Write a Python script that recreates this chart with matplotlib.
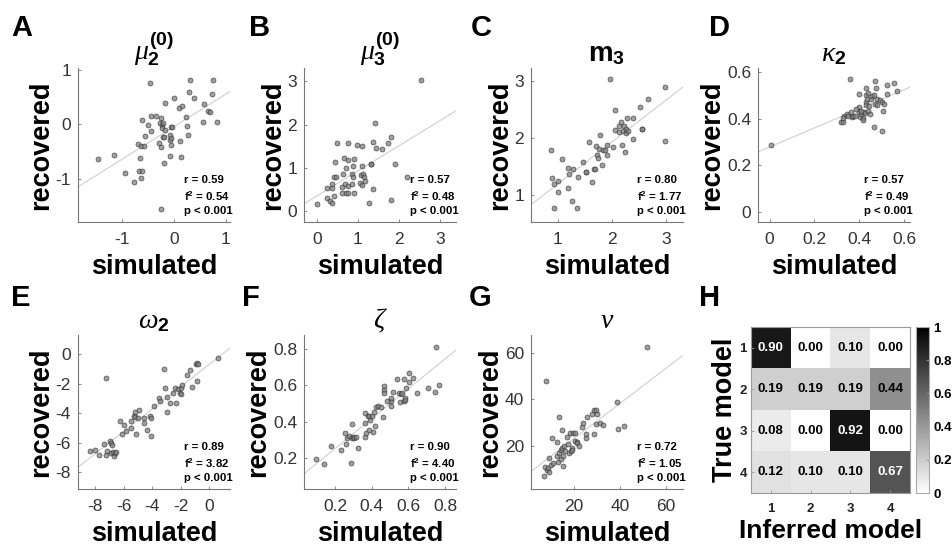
import matplotlib
matplotlib.use("Agg")
import matplotlib.pyplot as plt
import numpy as np

plt.rcParams['font.family'] = ['Liberation Sans', 'DejaVu Sans']
plt.rcParams['mathtext.fontset'] = 'custom'
plt.rcParams['mathtext.rm'] = 'Liberation Sans'
plt.rcParams['mathtext.bf'] = 'Liberation Sans:bold'
plt.rcParams['mathtext.it'] = 'Liberation Serif:italic'

# ---- data ----
a_sim = [-1.46, -1.16, -0.95, -0.78, -0.64, -0.67, -0.61, -0.65, -0.69, -0.63, -0.57, -0.61,
         -0.55, -0.50, -0.45, -0.44, -0.46, -0.34, -0.25, -0.27, -0.23, -0.21, -0.24, -0.17,
         -0.22, -0.19, -0.28, -0.25, -0.19, -0.17, -0.08, -0.08, -0.06, -0.06, -0.06, -0.04,
         -0.08, -0.25, 0.01, 0.10, 0.15, 0.12, 0.14, 0.23, 0.26, 0.28, 0.29, 0.30, 0.38,
         0.55, 0.58, 0.65, 0.70, 0.74, 0.75, 0.83]
a_rec = [-0.63, -0.57, -0.90, -1.06, -0.99, -0.86, -0.86, -0.62, -0.37, -0.40, -0.40, 0.09,
         -0.22, -0.01, -0.12, 0.15, 0.77, 0.15, 0.12, 0.03, -0.01, 0.02, -0.06, -0.10,
         -0.23, -0.23, -0.35, -0.41, -0.71, 0.39, -0.20, -0.29, -0.38, -0.26, -0.04, -0.04,
         -0.58, -1.56, 0.48, 0.31, 0.33, -0.31, -0.60, 0.14, -0.03, -0.19, 0.60, 0.81, 0.48,
         0.05, 0.38, 0.25, 0.23, 0.56, 0.81, 0.05]

b_sim = [0.00, 0.24, 0.26, 0.32, 0.37, 0.37, 0.37, 0.41, 0.42, 0.46, 0.44, 0.49, 0.61, 0.64,
         0.62, 0.65, 0.69, 0.70, 0.72, 0.76, 0.76, 0.77, 0.77, 0.89, 0.86, 0.85, 0.89, 0.90,
         0.90, 0.98, 1.06, 1.08, 1.10, 1.10, 1.12, 1.09, 1.14, 1.18, 1.28, 1.31, 1.32, 1.36,
         1.36, 1.42, 1.45, 1.58, 1.73, 1.80, 1.80, 1.89, 2.18, 2.54]
b_rec = [0.17, 0.53, 0.30, 0.23, 0.53, 0.63, 0.18, 0.34, 0.78, 0.78, 1.14, 1.57, 0.55, 0.85,
         0.42, 1.24, 0.63, 0.43, 1.00, 0.43, 0.58, 1.57, 1.18, 1.05, 0.85, 0.63, 0.78, 0.43,
         1.21, 1.52, 0.65, 0.83, 1.04, 1.50, 0.85, 0.61, 0.78, 0.70, 0.19, 1.08, 1.10, 1.61,
         0.51, 2.04, 1.47, 1.43, 1.57, 1.72, 0.26, 1.08, 0.78, 3.04]

c_sim = [0.88, 0.90, 0.93, 0.94, 1.00, 1.01, 1.09, 1.20, 1.20, 1.22, 1.26, 1.28, 1.36, 1.38,
         1.47, 1.52, 1.53, 1.59, 1.63, 1.68, 1.70, 1.71, 1.73, 1.74, 1.77, 1.78, 1.82, 1.85,
         1.88, 1.91, 1.92, 1.97, 2.02, 2.06, 2.06, 2.14, 2.14, 2.17, 2.19, 2.21, 2.23, 2.24,
         2.26, 2.27, 2.28, 2.31, 2.39, 2.40, 2.53, 2.56, 2.57, 2.68, 2.99, 2.99]
c_rec = [1.78, 1.29, 1.19, 0.77, 1.25, 1.06, 1.63, 1.48, 1.13, 1.37, 0.89, 1.45, 0.77, 1.32,
         1.57, 1.40, 1.40, 1.92, 1.22, 1.46, 1.46, 1.86, 1.70, 1.64, 1.80, 2.05, 1.53, 1.79,
         1.79, 1.70, 1.87, 3.02, 1.84, 2.49, 2.13, 2.20, 2.11, 2.27, 1.87, 2.12, 2.20, 1.76,
         2.08, 2.15, 2.35, 2.12, 2.35, 1.98, 2.54, 2.15, 2.15, 2.68, 2.89, 1.95]

d_sim = [0.004, 0.317, 0.326, 0.333, 0.326, 0.361, 0.344, 0.350, 0.364, 0.366, 0.374, 0.382,
         0.397, 0.397, 0.401, 0.404, 0.410, 0.419, 0.421, 0.427, 0.430, 0.430, 0.431, 0.431,
         0.437, 0.441, 0.444, 0.449, 0.453, 0.456, 0.465, 0.471, 0.471, 0.476, 0.479, 0.481,
         0.493, 0.501, 0.504, 0.508, 0.511, 0.523, 0.523, 0.557, 0.567, 0.464, 0.439, 0.387,
         0.406, 0.415]
d_rec = [0.287, 0.384, 0.387, 0.410, 0.404, 0.571, 0.420, 0.410, 0.428, 0.406, 0.413, 0.413,
         0.449, 0.428, 0.505, 0.406, 0.420, 0.401, 0.430, 0.423, 0.530, 0.500, 0.471, 0.457,
         0.483, 0.435, 0.454, 0.420, 0.486, 0.498, 0.365, 0.564, 0.464, 0.530, 0.457, 0.486,
         0.479, 0.347, 0.471, 0.435, 0.464, 0.508, 0.545, 0.552, 0.520, 0.500, 0.512, 0.442,
         0.435, 0.395]

e_sim = [-8.40, -8.05, -7.76, -7.39, -7.27, -7.22, -7.15, -6.99, -6.92, -6.92, -6.82, -6.75,
         -6.71, -6.64, -6.56, -6.24, -6.14, -6.00, -5.81, -5.48, -5.46, -5.27, -5.22, -5.18,
         -5.11, -4.99, -4.92, -4.59, -4.56, -4.33, -4.16, -4.09, -4.05, -3.88, -3.51, -3.46,
         -3.18, -3.11, -2.99, -2.96, -2.75, -2.52, -2.40, -2.33, -2.16, -2.05, -2.00, -1.98,
         -1.93, -1.53, -1.34, -1.22, -0.92, -0.82, -0.75, -0.87, 0.61]
e_rec = [-6.55, -6.49, -6.82, -6.08, -6.82, -1.63, -6.55, -5.88, -6.03, -6.67, -6.15, -6.60,
         -6.89, -6.71, -6.60, -4.50, -5.42, -4.79, -5.20, -4.52, -4.97, -4.16, -3.89, -4.23,
         -5.40, -4.34, -3.77, -4.29, -4.68, -5.13, -4.18, -5.54, -4.29, -3.48, -2.98, -3.16,
         -1.02, -2.26, -2.87, -3.89, -3.32, -2.64, -2.31, -3.28, -2.37, -2.64, -2.71, -2.31,
         -2.08, -1.40, -1.06, -2.19, -0.66, -0.61, -0.68, -1.81, -0.27]

f_sim = [0.096, 0.136, 0.178, 0.233, 0.251, 0.256, 0.262, 0.273, 0.287, 0.291, 0.293, 0.296,
         0.305, 0.311, 0.322, 0.360, 0.364, 0.365, 0.369, 0.378, 0.384, 0.387, 0.391, 0.400,
         0.405, 0.409, 0.418, 0.424, 0.433, 0.451, 0.460, 0.465, 0.467, 0.469, 0.482, 0.505,
         0.505, 0.507, 0.515, 0.536, 0.551, 0.555, 0.560, 0.564, 0.573, 0.578, 0.582, 0.582,
         0.587, 0.605, 0.602, 0.624, 0.647, 0.705, 0.745, 0.753, 0.765]
f_rec = [0.191, 0.163, 0.265, 0.243, 0.339, 0.276, 0.307, 0.322, 0.172, 0.387, 0.311, 0.316,
         0.311, 0.313, 0.252, 0.390, 0.446, 0.316, 0.339, 0.433, 0.353, 0.431, 0.409, 0.433,
         0.344, 0.451, 0.377, 0.479, 0.487, 0.479, 0.427, 0.597, 0.575, 0.560, 0.514, 0.514,
         0.533, 0.488, 0.562, 0.634, 0.560, 0.510, 0.553, 0.560, 0.514, 0.634, 0.533, 0.520,
         0.584, 0.671, 0.621, 0.640, 0.560, 0.584, 0.562, 0.816, 0.603]

g_sim = [6.96, 7.39, 7.83, 8.12, 8.84, 9.13, 9.28, 9.86, 10.58, 11.01, 12.46, 12.75, 13.19,
         13.62, 13.62, 14.20, 14.35, 14.78, 14.93, 15.07, 15.36, 15.65, 16.09, 16.81, 17.54,
         17.97, 18.26, 18.55, 19.00, 19.28, 19.71, 20.29, 20.43, 21.16, 21.45, 22.32, 23.33,
         24.06, 25.22, 25.22, 25.51, 27.68, 28.70, 28.84, 29.42, 29.57, 30.14, 31.30, 32.75,
         38.55, 38.99, 41.88, 52.03]
g_rec = [7.29, 11.14, 47.86, 9.71, 10.71, 15.00, 8.71, 11.86, 23.29, 12.86, 21.57, 15.71,
         13.29, 32.57, 16.86, 14.29, 18.29, 26.86, 19.00, 11.43, 15.86, 20.14, 17.86, 24.00,
         20.71, 16.86, 25.43, 18.00, 19.29, 18.29, 25.43, 25.43, 22.29, 21.86, 21.43, 20.00,
         28.29, 30.00, 23.57, 25.00, 32.57, 33.71, 25.14, 35.43, 35.43, 29.43, 33.57, 30.00,
         29.00, 39.00, 27.14, 28.57, 62.29]

titles = [r'$\mu_{\mathbf{2}}^{\mathbf{(0)}}$', r'$\mu_{\mathbf{3}}^{\mathbf{(0)}}$',
          r'$\mathbf{m}_{\mathbf{3}}$', r'$\kappa_{\mathbf{2}}$',
          r'$\omega_{\mathbf{2}}$', r'$\zeta$', r'$\nu$']
stats_r = ['0.59', '0.57', '0.80', '0.57', '0.89', '0.90', '0.72']
stats_f2 = ['0.54', '0.48', '1.77', '0.49', '3.82', '4.40', '1.05']
xlims = [(-1.85, 1.08), (-0.31, 3.38), (0.51, 3.32), (-0.052, 0.627),
         (-9.22, 1.48), (0.029, 0.86), (1.3, 67.5)]
ylims = [(-1.80, 1.04), (-0.25, 3.31), (0.53, 3.22), (-0.044, 0.618),
         (-9.13, 1.31), (0.026, 0.88), (1.6, 67.6)]
xticks = [[-1, 0, 1], [0, 1, 2, 3], [1, 2, 3], [0, 0.2, 0.4, 0.6],
          [-8, -6, -4, -2, 0], [0.2, 0.4, 0.6, 0.8], [20, 40, 60]]
yticks = [[-1, 0, 1], [0, 1, 2, 3], [1, 2, 3], [0, 0.2, 0.4, 0.6],
          [-8, -6, -4, -2, 0], [0.2, 0.4, 0.6, 0.8], [20, 40, 60]]

conf = np.array([[0.90, 0.00, 0.10, 0.00],
                 [0.19, 0.19, 0.19, 0.44],
                 [0.08, 0.00, 0.92, 0.00],
                 [0.12, 0.10, 0.10, 0.67]])
model_labels = ['1', '2', '3', '4']

panels = [(a_sim, a_rec), (b_sim, b_rec), (c_sim, c_rec), (d_sim, d_rec),
          (e_sim, e_rec), (f_sim, f_rec), (g_sim, g_rec)]

fig = plt.figure(figsize=(9.52, 5.5), dpi=100)

W, H = 952.0, 550.0
col_left = [78, 304, 531, 758]
row_bottom = [222, 489]
ax_w, ax_h = 152, 154

for i, (sim, rec) in enumerate(panels):
    r, c = divmod(i, 4)
    ax = fig.add_axes([col_left[c] / W, 1 - row_bottom[r] / H, ax_w / W, ax_h / H])
    sim = np.array(sim)
    rec = np.array(rec)
    slope, icpt = np.polyfit(sim, rec, 1)
    xl = np.array(xlims[i])
    ax.plot(xl, slope * xl + icpt, color='#cfcfcf', lw=0.8, zorder=1)
    ax.scatter(sim, rec, s=13, facecolor='#808080', edgecolor='#2a2a2a',
               linewidths=0.5, alpha=0.75, zorder=2)
    ax.set_xlim(xlims[i])
    ax.set_ylim(ylims[i])
    ax.set_xticks(xticks[i])
    ax.set_yticks(yticks[i])
    ax.set_xticklabels([('%g' % t) for t in xticks[i]])
    ax.set_yticklabels([('%g' % t) for t in yticks[i]])
    for s in ['top', 'right']:
        ax.spines[s].set_visible(False)
    for s in ['left', 'bottom']:
        ax.spines[s].set_color('#777777')
        ax.spines[s].set_linewidth(0.8)
    ax.tick_params(direction='in', length=2.5, width=0.6, color='#777777',
                   labelsize=12.5, labelcolor='#333333')
    ax.tick_params(axis='x', pad=7)
    ax.tick_params(axis='y', pad=5)
    ax.set_xlabel('simulated', fontsize=19.5, fontweight='bold', labelpad=5)
    ax.set_ylabel('recovered', fontsize=19.5, fontweight='bold', labelpad=1)
    ax.set_title(titles[i], fontsize=20, pad=5)
    # stats block, left aligned like the reference
    ax.text(0.70, 0.27, 'r = ' + stats_r[i], transform=ax.transAxes,
            ha='left', va='center', fontsize=8.2, fontweight='bold')
    ax.text(0.70, 0.165, r'$\mathbf{f^2}$ = ' + stats_f2[i], transform=ax.transAxes,
            ha='left', va='center', fontsize=8.2, fontweight='bold')
    ax.text(0.70, 0.07, 'p < 0.001', transform=ax.transAxes,
            ha='left', va='center', fontsize=8.2, fontweight='bold')

# confusion matrix
axh = fig.add_axes([751 / W, 1 - 493 / H, 159 / W, 166 / H])
im = axh.imshow(conf, cmap='gray_r', vmin=0, vmax=1, aspect='auto')
for r in range(4):
    for c in range(4):
        v = conf[r, c]
        axh.text(c, r, '%.2f' % v, ha='center', va='center', fontsize=9.5,
                 fontweight='bold', color='white' if v > 0.5 else 'black')
axh.set_xticks(range(4))
axh.set_yticks(range(4))
axh.set_xticklabels(model_labels, fontweight='bold')
axh.set_yticklabels(model_labels, fontweight='bold')
axh.tick_params(direction='in', length=2.5, width=0.6, color='#999999',
                labelsize=9.5, labelcolor='#222222')
axh.tick_params(axis='x', pad=7)
axh.tick_params(axis='y', pad=3)
for s in axh.spines.values():
    s.set_color('#999999')
    s.set_linewidth(0.8)
axh.set_xlabel('Inferred model', fontsize=19, fontweight='bold', labelpad=3)
axh.set_ylabel('True model', fontsize=19.5, fontweight='bold', labelpad=1)

cax = fig.add_axes([916 / W, 1 - 493 / H, 13 / W, 166 / H])
cb = fig.colorbar(im, cax=cax)
cb.set_ticks([0, 0.2, 0.4, 0.6, 0.8, 1])
cb.set_ticklabels(['0', '0.2', '0.4', '0.6', '0.8', '1'])
cb.outline.set_edgecolor('#aaaaaa')
cb.outline.set_linewidth(0.8)
cax.tick_params(direction='in', length=2, width=0.6, color='#999999',
                labelsize=9.5, pad=3)
for t in cax.get_yticklabels():
    t.set_fontweight('bold')

# panel letters
letters = [('A', 11, 14), ('B', 249, 14), ('C', 471, 14), ('D', 709, 14),
           ('E', 11, 284), ('F', 242, 284), ('G', 469, 284), ('H', 699, 284)]
for lab, x, y in letters:
    fig.text(x / W, 1 - y / H, lab, fontsize=21, fontweight='bold', va='top', ha='left')

fig.savefig('out.png', dpi=100)
